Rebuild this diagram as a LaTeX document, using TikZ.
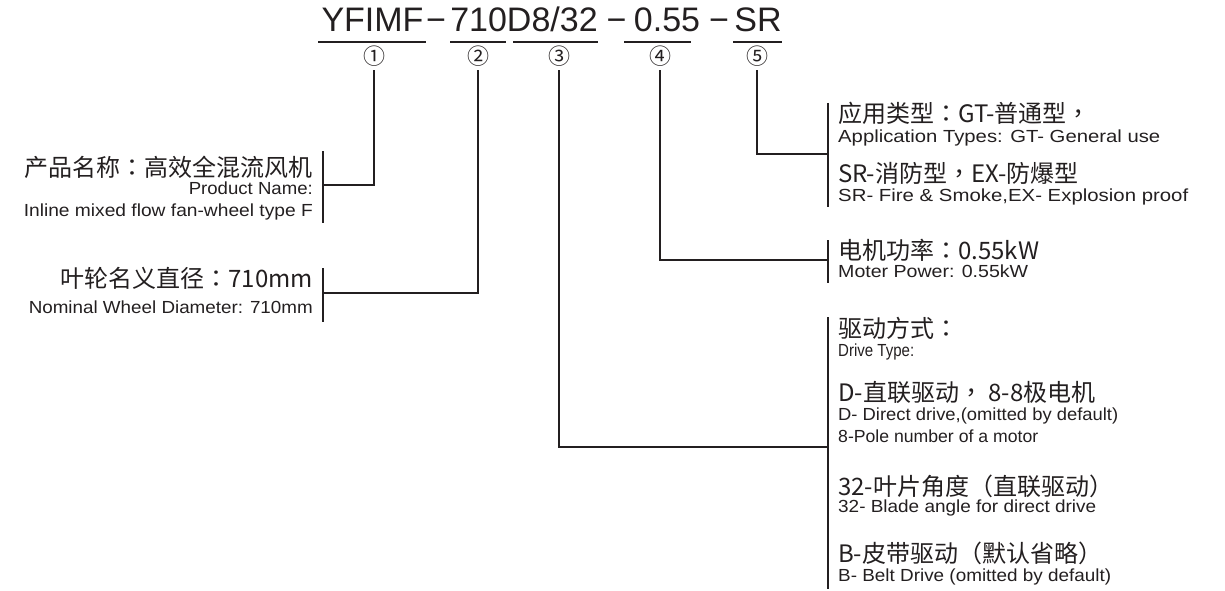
\documentclass[tikz,border=0pt]{standalone}
\usepackage{fontspec}
\usepackage{graphicx}
\setmainfont{Liberation Sans}
\newfontfamily\cjk{Noto Sans CJK SC}
\newfontfamily\cjkp{Noto Sans CJK TC}
\definecolor{ink}{HTML}{231F20}
\newcommand{\fitto}[2]{\resizebox{#1pt}{\height}{#2}}
\newcommand{\pc}[1]{{\cjkp #1}}
\begin{document}
\begin{tikzpicture}[x=1pt,y=-1pt,
  en/.style={font=\fontsize{17.5}{19}\selectfont, text=ink, inner sep=0pt, text height=12.5pt, text depth=0pt},
  zh/.style={font=\cjk\fontsize{24}{26}\selectfont, text=ink, inner sep=0pt, text height=21pt, text depth=3pt},
  tt/.style={font=\fontsize{34}{36}\selectfont, text=ink, inner sep=0pt, anchor=base},
  circ/.style={font=\cjk\fontsize{22}{22}\selectfont, text=ink, inner sep=0pt},
  conn/.style={draw=ink, line width=1.8pt},
  uline/.style={draw=ink, line width=2pt}]
\useasboundingbox (0,0) rectangle (1225,591);
% title
\node[tt] (t1) at (372.5,32) {YFIMF};
\node[tt] (d1) at (436,32) {−};
\node[tt] (t2) at (524,32) {710D8/32};
\node[tt] (d2) at (616.5,32) {−};
\node[tt] (t3) at (667,32) {0.55};
\node[tt] (d3) at (719,32) {−};
\node[tt] (t4) at (758,32) {SR};
% underlines
\draw[uline] (318,42) -- (426,42);
\draw[uline] (450,42) -- (506,42);
\draw[uline] (513,42) -- (598,42);
\draw[uline] (624,42) -- (691,42);
\draw[uline] (733,42) -- (782,42);
% circled numbers
\node[circ] (c1) at (374,56) {①};
\node[circ] (c2) at (478,56) {②};
\node[circ] (c3) at (559,56) {③};
\node[circ] (c4) at (660,56) {④};
\node[circ] (c5) at (757,56) {⑤};
% left texts
\node[zh,anchor=east] (n1a) at (313,167) {产品名称\pc{：}高效全混流风机};
\node[en,anchor=east] (n1b) at (313,188) {\fitto{124}{Product Name:}};
\node[en,anchor=east] (n1c) at (313,210) {\fitto{289}{Inline mixed flow fan-wheel type F}};
\node[zh,anchor=east] (n2a) at (313,278) {叶轮名义直径\pc{：}710mm};
\node[en,anchor=east] (n2b) at (313,307) {\fitto{284}{Nominal Wheel Diameter: 710mm}};
% right texts
\node[zh,anchor=west] (n5a) at (838,114) {应用类型\pc{：}GT-普通型\pc{，}};
\node[en,anchor=west] (n5b) at (838,136) {\fitto{322}{Application Types: GT- General use}};
\node[zh,anchor=west] (n5c) at (838,173) {SR-消防型\pc{，}EX-防爆型};
\node[en,anchor=west] (n5d) at (838,195) {\fitto{350}{SR- Fire \& Smoke,EX- Explosion proof}};
\node[zh,anchor=west] (n4a) at (838,250) {电机功率\pc{：}0.55kW};
\node[en,anchor=west] (n4b) at (838,271) {\fitto{190}{Moter Power: 0.55kW}};
\node[zh,anchor=west] (n3a) at (838,328) {驱动方式\pc{：}};
\node[en,anchor=west] (n3b) at (838,350) {\fitto{76}{Drive Type:}};
\node[zh,anchor=west] (n3c) at (838,392) {D-直联驱动\pc{，} 8-8极电机};
\node[en,anchor=west] (n3d) at (838,414) {\fitto{280}{D- Direct drive,(omitted by default)}};
\node[en,anchor=west] (n3e) at (838,436) {\fitto{200}{8-Pole number of a motor}};
\node[zh,anchor=west] (n3f) at (838,486) {32-叶片角度（直联驱动）};
\node[en,anchor=west] (n3g) at (838,506) {\fitto{258}{32- Blade angle for direct drive}};
\node[zh,anchor=west] (n3h) at (838,553) {B-皮带驱动（默认省略）};
\node[en,anchor=west] (n3i) at (838,575) {\fitto{273}{B- Belt Drive (omitted by default)}};
% junctions and brackets
\coordinate (j1) at (323,185);
\coordinate (j2) at (323,293);
\coordinate (j3) at (828,447);
\coordinate (j4) at (828,260);
\coordinate (j5) at (828,154);
\coordinate (k1t) at (323,151); \coordinate (k1b) at (323,223);
\coordinate (k2t) at (323,268); \coordinate (k2b) at (323,322);
\coordinate (k5t) at (828,103); \coordinate (k5b) at (828,207);
\coordinate (k4t) at (828,240); \coordinate (k4b) at (828,283);
\coordinate (k3t) at (828,317); \coordinate (k3b) at (828,589);
\draw[conn] (k1t) -- (k1b);
\draw[conn] (k2t) -- (k2b);
\draw[conn] (k5t) -- (k5b);
\draw[conn] (k4t) -- (k4b);
\draw[conn] (k3t) -- (k3b);
% connectors
\draw[conn, shorten <=4pt] (c1.south) |- (j1);
\draw[conn, shorten <=4pt] (c2.south) |- (j2);
\draw[conn, shorten <=4pt] (c3.south) |- (j3);
\draw[conn, shorten <=4pt] (c4.south) |- (j4);
\draw[conn, shorten <=4pt] (c5.south) |- (j5);
\end{tikzpicture}
\end{document}
